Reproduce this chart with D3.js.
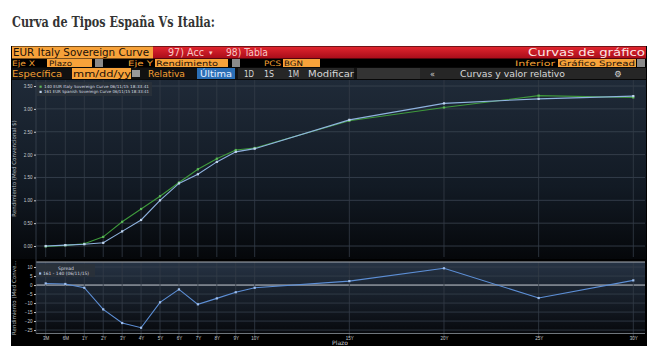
<!DOCTYPE html>
<html>
<head>
<meta charset="utf-8">
<script src="https://cdn.jsdelivr.net/npm/d3@7"></script>
<style>
  body { margin: 0; background: #fff; }
  svg { display: block; font-family: "DejaVu Sans", sans-serif; }
</style>
</head>
<body>
<div id="chart"></div>
<script>
// Data
const tenorLabels = ['3M', '6M', '1Y', '2Y', '3Y', '4Y', '5Y', '6Y', '7Y', '8Y', '9Y', '10Y', '15Y', '20Y', '25Y', '30Y']
const tenorYears = [0.25, 0.5, 1, 2, 3, 4, 5, 6, 7, 8, 9, 10, 15, 20, 25, 30]
const italy = [-0.01, 0.015, 0.05, 0.20, 0.53, 0.81, 1.09, 1.39, 1.68, 1.91, 2.10, 2.145, 2.74, 3.03, 3.29, 3.25]
const spain = [0.00, 0.02, 0.04, 0.07, 0.32, 0.57, 1.00, 1.37, 1.57, 1.84, 2.06, 2.13, 2.76, 3.12, 3.22, 3.28]
const spread = [0.9, 0.6, -1.5, -13.5, -21.1, -23.7, -9.6, -2.4, -10.7, -7.4, -4.0, -1.5, 2.2, 9.3, -7.2, 2.6]
const mainTicks = [0, 0.5, 1, 1.5, 2, 2.5, 3, 3.5]
const spreadTicks = [-25, -20, -15, -10, -5, 0, 5, 10]

const W = 664, H = 354
const plot = { left: 36, right: 645, top: 80, bottom: 257 }
const low = { top: 262, bottom: 333.5 }

const svg = d3.select('#chart').append('svg').attr('width', W).attr('height', H)
const defs = svg.append('defs')

function vGrad(id, stops) {
  const g = defs.append('linearGradient').attr('id', id)
    .attr('x1', 0).attr('y1', 0).attr('x2', 0).attr('y2', 1)
  stops.forEach(s => g.append('stop').attr('offset', s[0]).attr('stop-color', s[1]))
}
vGrad('redGrad', [[0, '#e2262e'], [1, '#a80c1a']])
vGrad('mainBg', [[0, '#1f2a38'], [0.6, '#121a24'], [1, '#05070a']])
vGrad('lowBg', [[0, '#263344'], [1, '#07090d']])

// Title
svg.append('text')
  .attr('x', 12).attr('y', 27)
  .style('font-family', '"DejaVu Serif", "Liberation Serif", serif')
  .style('font-weight', 'bold')
  .attr('font-size', 15)
  .attr('fill', '#333')
  .attr('textLength', 203).attr('lengthAdjust', 'spacingAndGlyphs')
  .text('Curva de Tipos España Vs Italia:')

// Frame
svg.append('rect').attr('x', 11).attr('y', 46).attr('width', 636).attr('height', 300).attr('fill', '#000')

// Toolbar helpers
function label(x, y, txt, opt = {}) {
  const t = svg.append('text').attr('x', x).attr('y', y)
    .attr('font-size', opt.size || 8)
    .attr('fill', opt.fill || '#f5a033')
    .attr('text-anchor', opt.anchor || 'start')
    .text(txt)
  if (opt.len) t.attr('textLength', opt.len).attr('lengthAdjust', 'spacingAndGlyphs')
  return t
}
function box(x, y, w, h, fill) {
  svg.append('rect').attr('x', x).attr('y', y).attr('width', w).attr('height', h).attr('fill', fill)
}

// Row 1
box(12, 46.5, 141, 12, '#f7a23a')
box(153, 46.5, 493, 12, 'url(#redGrad)')
label(13, 56, 'EUR Italy Sovereign Curve', { size: 11, fill: '#1b1008', len: 136 })
label(168, 55.5, '97) Acc', { size: 10, fill: '#f8c6c6', len: 36 })
label(209, 55, '▾', { size: 7, fill: '#f8c6c6' })
label(226, 55.5, '98) Tabla', { size: 10, fill: '#f8c6c6', len: 42 })
label(645, 56, 'Curvas de gráfico', { size: 11, fill: '#fbe5e5', anchor: 'end', len: 117 })

// Row 2
label(12, 65.5, 'Eje X', { size: 7.5, len: 23 })
box(47, 59, 45, 8, '#f7a23a')
label(49, 65.5, 'Plazo', { size: 7.5, fill: '#1b1008', len: 23 })
box(95, 59, 8, 8, '#8a8a8a')
label(128, 65.5, 'Eje Y', { size: 7.5, len: 25 })
box(155, 59, 73, 8, '#f7a23a')
label(156, 65.5, 'Rendimiento', { size: 7.5, fill: '#1b1008', len: 62 })
box(232, 59, 8, 8, '#8a8a8a')
label(264, 65.5, 'PCS', { size: 7.5, len: 17 })
box(283, 59, 37, 8, '#f7a23a')
label(284, 65.5, 'BGN', { size: 7.5, fill: '#1b1008', len: 19 })
label(515, 65.5, 'Inferior', { size: 7.5, len: 40 })
box(558, 59, 78, 8, '#f7a23a')
label(559, 65.5, 'Gráfico Spread', { size: 7.5, fill: '#1b1008', len: 76 })
box(637, 59, 8, 8, '#8a8a8a')

// Row 3
box(12, 67.5, 634, 12, '#111')
label(12, 77, 'Específica', { size: 9, len: 50 })
box(72, 68, 59, 11, '#f7a23a')
label(73, 77, 'mm/dd/yy', { size: 9, fill: '#1b1008', len: 58 })
box(132, 70, 8, 7, '#9a9a9a')
label(148, 77, 'Relativa', { size: 9, len: 37 })
box(197, 68, 38, 11, '#2b6fb6')
label(200, 77, 'Última', { size: 8.5, fill: '#e8f0ff', len: 32 })
box(238, 68, 116, 11, '#262626')
label(244, 76.5, '1D', { size: 8, fill: '#d8d8d8', len: 10 })
label(264, 76.5, '1S', { size: 8, fill: '#d8d8d8', len: 10 })
label(288, 76.5, '1M', { size: 8, fill: '#d8d8d8', len: 11 })
label(308, 76.5, 'Modificar', { size: 8, fill: '#d8d8d8', len: 46 })
box(357, 68, 63, 11, '#333')
box(420, 68, 226, 11, '#262626')
label(430, 76.5, '«', { size: 8, fill: '#cfcfcf' })
label(460, 76.5, 'Curvas y valor relativo', { size: 8, fill: '#d8d8d8', len: 105 })
label(618, 77, '⚙', { size: 8.5, fill: '#d8d8d8', anchor: 'middle' })

// Chart backgrounds
box(12, plot.top, 634, plot.bottom - plot.top + 2, 'url(#mainBg)')
box(plot.left, low.top, plot.right - plot.left, low.bottom - low.top, 'url(#lowBg)')

// Scales
const xScale = d3.scaleLinear()
  .domain([0.25, 0.5, 1, 30])
  .range([45.7, 65.3, 84.3, 633.3])
const yMain = d3.scaleLinear().domain([-0.24, 3.61]).range([plot.bottom, plot.top + 1])
const yLow = d3.scaleLinear().domain([-26.9, 12.8]).range([low.bottom, low.top])

// Gridlines
const grid = svg.append('g')
grid.selectAll('.gm').data(mainTicks).join('line')
  .attr('x1', plot.left).attr('x2', plot.right)
  .attr('y1', d => yMain(d)).attr('y2', d => yMain(d))
  .attr('stroke', '#3b4552').attr('stroke-width', 0.8)
grid.selectAll('.gl').data(spreadTicks).join('line')
  .attr('x1', plot.left).attr('x2', plot.right)
  .attr('y1', d => yLow(d)).attr('y2', d => yLow(d))
  .attr('stroke', d => d === 0 ? '#c9ced4' : '#36404c')
  .attr('stroke-width', d => d === 0 ? 1 : 0.8)
grid.selectAll('.vm').data(tenorYears).join('line')
  .attr('x1', d => xScale(d)).attr('x2', d => xScale(d))
  .attr('y1', plot.top).attr('y2', plot.bottom)
  .attr('stroke', '#333c47').attr('stroke-width', 0.8)
grid.selectAll('.vl').data(tenorYears).join('line')
  .attr('x1', d => xScale(d)).attr('x2', d => xScale(d))
  .attr('y1', low.top).attr('y2', low.bottom + 4)
  .attr('stroke', '#333c47').attr('stroke-width', 0.8)

// panel edges
svg.append('line').attr('x1', plot.left).attr('x2', plot.right).attr('y1', low.top).attr('y2', low.top)
  .attr('stroke', '#a8aeb5').attr('stroke-width', 1.2)
svg.append('line').attr('x1', plot.left).attr('x2', plot.right).attr('y1', low.bottom).attr('y2', low.bottom)
  .attr('stroke', '#8c939b').attr('stroke-width', 0.8)
svg.append('line').attr('x1', plot.left).attr('x2', plot.left).attr('y1', plot.top).attr('y2', low.bottom)
  .attr('stroke', '#3b4552').attr('stroke-width', 0.8)

// Axes
const axisStyle = g => {
  g.select('.domain').remove()
  g.selectAll('.tick line').attr('stroke', '#c8ccd0')
  g.selectAll('.tick text').attr('fill', '#c8ccd0').attr('font-size', 4.5)
}
svg.append('g')
  .attr('transform', `translate(${plot.left},0)`)
  .call(d3.axisLeft(yMain).tickValues(mainTicks).tickFormat(d3.format('.2f')).tickSize(2).tickPadding(1.5))
  .call(axisStyle)
svg.append('g')
  .attr('transform', `translate(${plot.left},0)`)
  .call(d3.axisLeft(yLow).tickValues(spreadTicks).tickSize(2).tickPadding(1.5))
  .call(axisStyle)
svg.append('g')
  .attr('transform', `translate(0,${low.bottom + 0.5})`)
  .call(d3.axisBottom(xScale).tickValues(tenorYears).tickFormat((d, i) => tenorLabels[i]).tickSize(0).tickPadding(2.5))
  .call(axisStyle)

svg.append('text')
  .attr('transform', `translate(16,${(plot.top + plot.bottom) / 2}) rotate(-90)`)
  .attr('text-anchor', 'middle').attr('font-size', 5.5).attr('fill', '#b0b6bd')
  .text('Rendimiento (Med Convencional $)')
svg.append('text')
  .attr('transform', `translate(16,${(low.top + low.bottom) / 2}) rotate(-90)`)
  .attr('text-anchor', 'middle').attr('font-size', 5.5).attr('fill', '#b0b6bd')
  .text('Rendimiento (Med Conve...')
svg.append('text')
  .attr('x', 340).attr('y', 345).attr('text-anchor', 'middle')
  .attr('font-size', 6).attr('fill', '#c8ccd0')
  .text('Plazo')

// Lines
const lineMain = (arr) => d3.line().x((d, i) => xScale(tenorYears[i])).y(d => yMain(d))(arr)
const series = [
  { name: '140 EUR Italy Sovereign Curve 06/11/15 18:33:41', values: italy, stroke: '#3f9a3c', marker: '#5cb858' },
  { name: '161 EUR Spanish Sovereign Curve 06/11/15 18:33:41', values: spain, stroke: '#8fb3df', marker: '#c2d6ef' }
]
series.forEach(s => {
  svg.append('path').attr('d', lineMain(s.values))
    .attr('fill', 'none').attr('stroke', s.stroke).attr('stroke-width', 1.1)
  svg.append('g').selectAll('rect').data(s.values).join('rect')
    .attr('x', (d, i) => xScale(tenorYears[i]) - 1.1)
    .attr('y', d => yMain(d) - 1.1)
    .attr('width', 2.2).attr('height', 2.2)
    .attr('fill', s.marker)
})

svg.append('path')
  .attr('d', d3.line().x((d, i) => xScale(tenorYears[i])).y(d => yLow(d))(spread))
  .attr('fill', 'none').attr('stroke', '#5d8fd6').attr('stroke-width', 1.1)
svg.append('g').selectAll('rect').data(spread).join('rect')
  .attr('x', (d, i) => xScale(tenorYears[i]) - 1.1)
  .attr('y', d => yLow(d) - 1.1)
  .attr('width', 2.2).attr('height', 2.2)
  .attr('fill', '#9fbfee')

// Legends
const leg = svg.append('g')
leg.append('rect').attr('x', 37).attr('y', 82).attr('width', 115).attr('height', 14)
  .attr('fill', '#2a313a').attr('opacity', 0.85)
series.forEach((s, i) => {
  leg.append('rect').attr('x', 39.5).attr('y', 85.6 + i * 5.2).attr('width', 2.2).attr('height', 2.2).attr('fill', s.marker)
  leg.append('text').attr('x', 44).attr('y', 88 + i * 5.2)
    .attr('font-size', 4.2).attr('fill', '#d6dbe0')
    .attr('textLength', 105).attr('lengthAdjust', 'spacingAndGlyphs')
    .text(s.name)
})

const leg2 = svg.append('g')
leg2.append('rect').attr('x', 37).attr('y', 264).attr('width', 58).attr('height', 13)
  .attr('fill', '#2a313a').attr('opacity', 0.85)
leg2.append('text').attr('x', 66).attr('y', 269.5).attr('text-anchor', 'middle')
  .attr('font-size', 4.5).attr('fill', '#d6dbe0').text('Spread')
leg2.append('rect').attr('x', 39).attr('y', 272.4).attr('width', 2.2).attr('height', 2.2).attr('fill', '#9fbfee')
leg2.append('text').attr('x', 43).attr('y', 274.8)
  .attr('font-size', 4.5).attr('fill', '#d6dbe0')
  .attr('textLength', 46).attr('lengthAdjust', 'spacingAndGlyphs')
  .text('161 - 140 (06/11/15)')
</script>
</body>
</html>
